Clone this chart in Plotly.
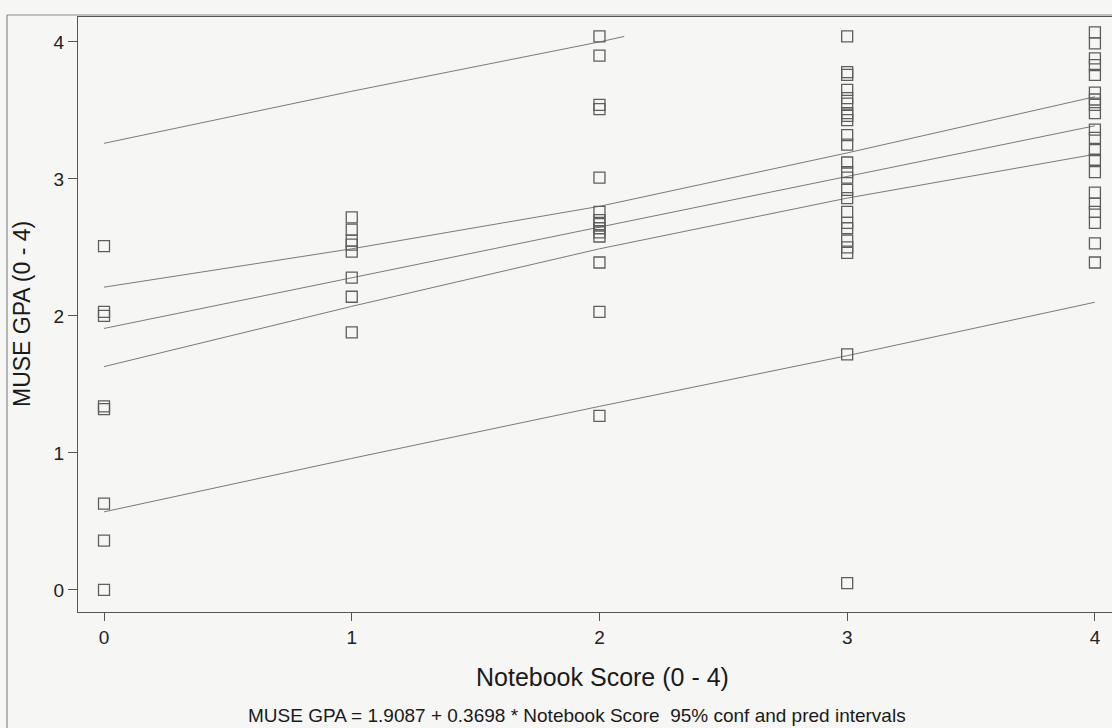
import plotly.graph_objects as go

# ---- data ----
notebook_0 = [2.51, 2.03, 2.00, 1.34, 1.32, 0.63, 0.36, 0.00]
notebook_1 = [2.72, 2.63, 2.55, 2.52, 2.47, 2.28, 2.14, 1.88]
notebook_2 = [4.04, 3.90, 3.54, 3.51, 3.01, 2.76, 2.70, 2.67, 2.64, 2.61, 2.58, 2.39, 2.03, 1.27]
notebook_3 = [4.04, 3.78, 3.76, 3.65, 3.59, 3.55, 3.48, 3.46, 3.43, 3.32, 3.25, 3.12, 3.05, 3.01,
              2.92, 2.86, 2.76, 2.68, 2.64, 2.55, 2.50, 2.46, 1.72, 0.05]
notebook_4 = [4.07, 3.99, 3.88, 3.83, 3.76, 3.63, 3.58, 3.54, 3.48, 3.36, 3.30, 3.21, 3.14, 3.05,
              2.90, 2.82, 2.76, 2.68, 2.53, 2.39]

band_x = [0, 1, 2, 3, 4]
fit_y = [1.9087, 2.2785, 2.6483, 3.0181, 3.3879]
conf_upper = [2.21, 2.49, 2.80, 3.19, 3.60]
conf_lower = [1.63, 2.07, 2.49, 2.86, 3.18]
pred_upper_x = [0, 1, 2, 2.1]
pred_upper = [3.26, 3.64, 4.00, 4.04]
pred_lower = [0.57, 0.96, 1.34, 1.71, 2.10]

x_ticks = [0, 1, 2, 3, 4]
y_ticks = [0, 1, 2, 3, 4]

groups = [(0, notebook_0), (1, notebook_1), (2, notebook_2), (3, notebook_3), (4, notebook_4)]

fig = go.Figure()

line_style = dict(color="#7a7a7a", width=1)
fig.add_trace(go.Scatter(x=pred_upper_x, y=pred_upper, mode="lines", line=line_style, showlegend=False))
fig.add_trace(go.Scatter(x=band_x, y=conf_upper, mode="lines", line=line_style, showlegend=False))
fig.add_trace(go.Scatter(x=band_x, y=fit_y, mode="lines", line=line_style, showlegend=False))
fig.add_trace(go.Scatter(x=band_x, y=conf_lower, mode="lines", line=line_style, showlegend=False))
fig.add_trace(go.Scatter(x=band_x, y=pred_lower, mode="lines", line=line_style, showlegend=False))

xs, ys = [], []
for gx, vals in groups:
    xs += [gx] * len(vals)
    ys += vals
fig.add_trace(go.Scatter(
    x=xs, y=ys, mode="markers", showlegend=False,
    marker=dict(symbol="square-open", size=11, color="#5e5e5e", line=dict(width=1.3, color="#5e5e5e")),
))

W, H = 1112, 728
L, R, T, B = 78, 0, 17, 116
pw, ph = W - L - R, H - T - B

def px(x):
    return (x - L) / pw

def py(y):
    return (H - B - y) / ph

fig.update_layout(
    width=W, height=H,
    margin=dict(l=L, r=R, t=T, b=B),
    paper_bgcolor="#f6f6f5",
    plot_bgcolor="#f6f6f5",
    font=dict(family="Liberation Sans, Arial, sans-serif", color="#222"),
    xaxis=dict(
        range=[-0.105, 4.069], tickvals=x_ticks, ticktext=[str(t) for t in x_ticks],
        showgrid=False, zeroline=False, showline=True, linecolor="#555", linewidth=1.2,
        mirror=True, ticks="outside", ticklen=8, tickcolor="#555", tickfont=dict(size=19),
    ),
    yaxis=dict(
        range=[-0.161, 4.182], tickvals=y_ticks, ticktext=[str(t) for t in y_ticks],
        showgrid=False, zeroline=False, showline=True, linecolor="#555", linewidth=1.2,
        ticks="outside", ticklen=9, tickcolor="#555", tickfont=dict(size=19),
    ),
    shapes=[
        dict(type="line", xref="paper", yref="paper", x0=px(7), x1=px(7), y0=py(15), y1=py(728),
             line=dict(color="#8a8a8a", width=1.2)),
        dict(type="line", xref="paper", yref="paper", x0=px(7), x1=1.0, y0=py(15), y1=py(15),
             line=dict(color="#8a8a8a", width=1.2)),
    ],
    annotations=[
        dict(text="Notebook Score (0 - 4)", xref="paper", yref="paper", x=px(602), y=py(677),
             showarrow=False, xanchor="center", yanchor="middle", font=dict(size=25, color="#1a1a1a")),
        dict(text="MUSE GPA (0 - 4)", xref="paper", yref="paper", x=px(22), y=py(314),
             showarrow=False, xanchor="center", yanchor="middle", textangle=-90,
             font=dict(size=23, color="#1a1a1a")),
        dict(text="MUSE GPA = 1.9087 + 0.3698 * Notebook Score  95% conf and pred intervals",
             xref="paper", yref="paper", x=px(577), y=py(715),
             showarrow=False, xanchor="center", yanchor="middle", font=dict(size=19, color="#1a1a1a")),
    ],
)

fig.write_html(
    "out.html",
    config={"displayModeBar": False},
    post_script="document.body.style.margin='0';document.body.style.overflow='hidden';",
)
